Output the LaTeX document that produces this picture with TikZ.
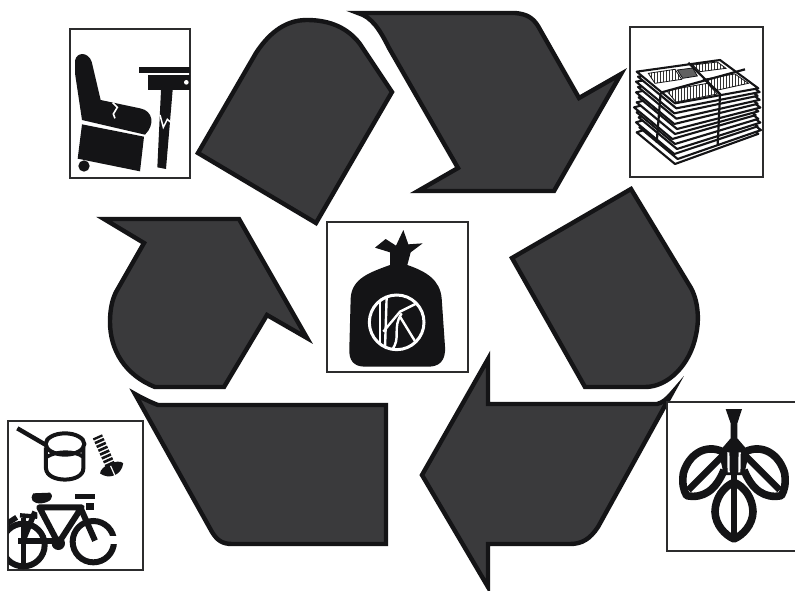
\documentclass[tikz,border=0pt]{standalone}
\usetikzlibrary{patterns}
\definecolor{ink}{HTML}{141416}
\definecolor{piece}{HTML}{3A3A3C}
\tikzset{
  piecestyle/.style={fill=piece,draw=ink,line width=4.4pt,line join=miter,miter limit=12},
  boxstyle/.style={fill=white,draw=ink!90,line width=2.6pt},
  ink line/.style={draw=ink,line width=#1},
  white line/.style={draw=white,line width=#1},
  sheet/.style={fill=white,draw=ink,line width=2.1pt,line join=round},
  print/.style={pattern=vertical lines,pattern color=black!80,draw=ink,line width=.8pt},
  icon/.style={shift={#1},scale=1/3}
}
\begin{document}
\begin{tikzpicture}[x=1pt,y=-1pt]
\useasboundingbox (0,0) rectangle (795,591);
\fill[white] (0,0) rectangle (795,591);

% recycling pieces
\draw[piecestyle] (198,153) -- (256,53) .. controls (271,30) and (288,20) .. (307,20)
  .. controls (330,20) and (348,28) .. (360,44) -- (392,92) -- (316,223) -- cycle;
\draw[piecestyle] (358,13) -- (515,13) .. controls (527,14) and (533,18) .. (538,26)
  -- (579,98) -- (621,74) -- (554,191) -- (418,191) -- (458,168) -- (389,48)
  .. controls (380,30) and (372,17) .. (358,13) -- cycle;
\draw[piecestyle] (512,258) -- (631,189) -- (691,288) .. controls (699,303) and (699,322) .. (696,335)
  .. controls (690,365) and (668,387) .. (645,387) -- (585,387) -- cycle;
\draw[piecestyle] (488,359) -- (488,404) -- (657,404) .. controls (662,403) and (667,399) .. (672,393)
  -- (598,527) .. controls (590,539) and (582,544) .. (570,544) -- (488,544) -- (488,587)
  -- (422,475) -- cycle;
\draw[piecestyle] (104,219) -- (239,219) -- (307,338) -- (267,315) -- (224,387) -- (155,387)
  .. controls (125,375) and (110,350) .. (110,322) .. controls (110,310) and (112,300) .. (116,292)
  -- (144,243) -- cycle;
\draw[piecestyle] (135,394) .. controls (142,398) and (150,402) .. (158,405) -- (386,405) -- (386,544)
  -- (232,544) .. controls (222,544) and (217,540) .. (212,532) -- cycle;

% chair and table
\draw[boxstyle] (70,29) rectangle (190,178);
\begin{scope}[icon={(60,20)}]
\fill[ink] (45,122) .. controls (50,95) and (84,95) .. (95,125) -- (122,240) -- (240,265)
  .. controls (280,272) and (285,315) .. (255,344) -- (66,300) -- (45,160) -- cycle;
\draw[white line=1.6pt] (158,248) -- (172,262) -- (160,282) -- (165,295);
\fill[ink] (66,313) -- (252,350) -- (240,454) -- (53,416) -- cycle;
\fill[ink] (72,438) circle (17);
\fill[ink] (237,142) rectangle (390,160);
\fill[ink] (265,165) rectangle (390,210);
\fill[white] (379,187) circle (7);
\fill[ink] (303,210) -- (338,210) -- (318,447) -- (292,442) -- cycle;
\draw[white line=1.5pt] (300,285) -- (310,322) -- (322,298) -- (338,312);
\end{scope}

% newspapers
\draw[boxstyle] (630,27) rectangle (763,177);
\begin{scope}[icon={(620,20)}]
\foreach \d/\w in {182/0,167/8,152/-2,137/6,122/0,107/-8,92/0,77/6,62/-2,46/4,30/-2,15/4,0/0}{
  \pgfmathsetmacro{\dr}{\d*0.75}
  \draw[sheet] (50+\w,155+\d) -- (300+\w,120+\dr) -- (415+\w,205+\dr) -- (165+\w,250+\d) -- cycle;
}
\draw[print] (85,160) -- (165,148) -- (185,178) -- (105,190) -- cycle;
\draw[print] (140,212) -- (262,190) -- (292,222) -- (168,246) -- cycle;
\draw[print] (250,178) -- (345,162) -- (385,190) -- (285,212) -- cycle;
\draw[print] (218,135) -- (292,126) -- (318,145) -- (240,155) -- cycle;
\fill[black!62,draw=ink,line width=.8pt] (172,150) -- (218,144) -- (232,168) -- (188,175) -- cycle;
\draw[ink line=2.2pt] (205,128) -- (300,222) -- (293,375);
\draw[ink line=2.2pt] (122,218) -- (375,148);
\draw[ink line=2.2pt] (122,218) -- (110,368);
\end{scope}

% bag
\draw[boxstyle] (327,222) rectangle (468,372);
\begin{scope}[icon={(320,215)}]
\fill[ink] (165,98) -- (197,72) -- (228,92) -- (250,45) -- (265,88) -- (308,85) -- (272,112) -- (262,150)
  .. controls (320,170) and (360,195) .. (365,250) -- (375,395)
  .. controls (378,440) and (355,455) .. (325,455) -- (135,455)
  .. controls (100,455) and (86,435) .. (88,400) -- (92,250)
  .. controls (95,190) and (150,172) .. (210,150) -- (210,112) -- cycle;
\draw[white line=3pt] (230,322) circle (82);
\begin{scope}
\clip (230,322) circle (82);
\draw[white line=2.4pt] (180,255) -- (180,385);
\draw[white line=2.4pt] (200,245) -- (195,400);
\draw[white line=2.4pt] (190,350) -- (240,290) -- (300,260);
\draw[white line=2.4pt] (245,295) .. controls (215,340) and (245,370) .. (215,405);
\draw[white line=2.4pt] (240,305) -- (292,390);
\end{scope}
\end{scope}

% pot, screw, bicycle
\draw[boxstyle] (8,421) rectangle (143,570);
\begin{scope}[icon={(0,410)}]
\draw[ink line=4.4pt] (52,55) -- (138,105);
\draw[ink line=4pt] (195,102) ellipse (58 and 32);
\draw[ink line=4pt] (138,112) -- (138,175) .. controls (140,220) and (250,220) .. (250,175) -- (250,112);
\draw[ink line=3.6pt] (142,140) .. controls (170,122) and (225,122) .. (248,140);
\begin{scope}[shift={(335,175)},rotate=24]
\draw[ink,line width=10pt,dash pattern=on 2.6pt off 1.6pt] (0,-10) -- (0,-105);
\fill[ink] (-38,0) .. controls (-30,-20) and (30,-20) .. (38,0) .. controls (20,30) and (-20,30) .. (-38,0) -- cycle;
\draw[white line=1.2pt] (0,-8) -- (0,30);
\end{scope}
\begin{scope}
\clip (25,32) rectangle (430,480);
\draw[ink line=6pt] (70,405) circle (64);
\draw[ink line=5pt] (72,325) -- (72,470);
\draw[ink line=5.4pt] (22,340) -- (50,322);
\end{scope}
\draw[ink line=6pt] (280,395) circle (62);
\fill[white] (328,378) rectangle (360,402);
\fill[ink] (100,250) -- (150,248) .. controls (165,262) and (150,277) .. (125,280) .. controls (98,282) and (88,268) .. (100,250) -- cycle;
\fill[ink] (224,252) rectangle (285,268);
\fill[ink] (258,278) rectangle (282,300);
\draw[ink line=6pt,line join=round] (118,292) -- (245,292) -- (175,400) -- cycle;
\draw[ink line=6pt] (240,290) -- (285,392);
\draw[ink line=5.4pt] (105,305) -- (68,395);
\draw[ink line=6pt] (55,393) -- (175,393);
\draw[ink line=4.4pt] (60,316) -- (112,320);
\fill[ink] (175,400) circle (20);
\end{scope}

% leaves
\draw[boxstyle] (667,402) -- (797,402) -- (797,551) -- (667,551) -- cycle;
\begin{scope}[icon={(660,395)}]
\fill[ink] (197,42) -- (246,42) -- (232,85) -- (232,130) -- (268,172) -- (252,240) -- (192,240) -- (176,172) -- (212,130) -- (212,85) -- cycle;
\draw[white line=2.2pt] (205,172) -- (206,232);
\draw[white line=2.2pt] (239,172) -- (238,232);
\draw[ink line=7.6pt,line join=round] (188,170) .. controls (135,145) and (85,180) .. (70,235)
  .. controls (66,265) and (70,285) .. (80,302)
  .. controls (130,312) and (168,285) .. (192,225);
\draw[ink line=6.6pt] (85,285) -- (192,178);
\draw[ink line=7.6pt,line join=round] (256,170) .. controls (309,145) and (359,180) .. (374,235)
  .. controls (378,265) and (374,285) .. (364,302)
  .. controls (314,312) and (276,285) .. (252,225);
\draw[ink line=6.6pt] (359,285) -- (252,178);
\draw[ink line=7.6pt,line join=round] (222,262) .. controls (190,275) and (166,310) .. (165,350)
  .. controls (166,390) and (195,420) .. (222,432)
  .. controls (249,420) and (278,390) .. (279,350)
  .. controls (278,310) and (254,275) .. (222,262);
\draw[ink line=6.6pt] (222,235) -- (222,425);
\end{scope}
\end{tikzpicture}
\end{document}
